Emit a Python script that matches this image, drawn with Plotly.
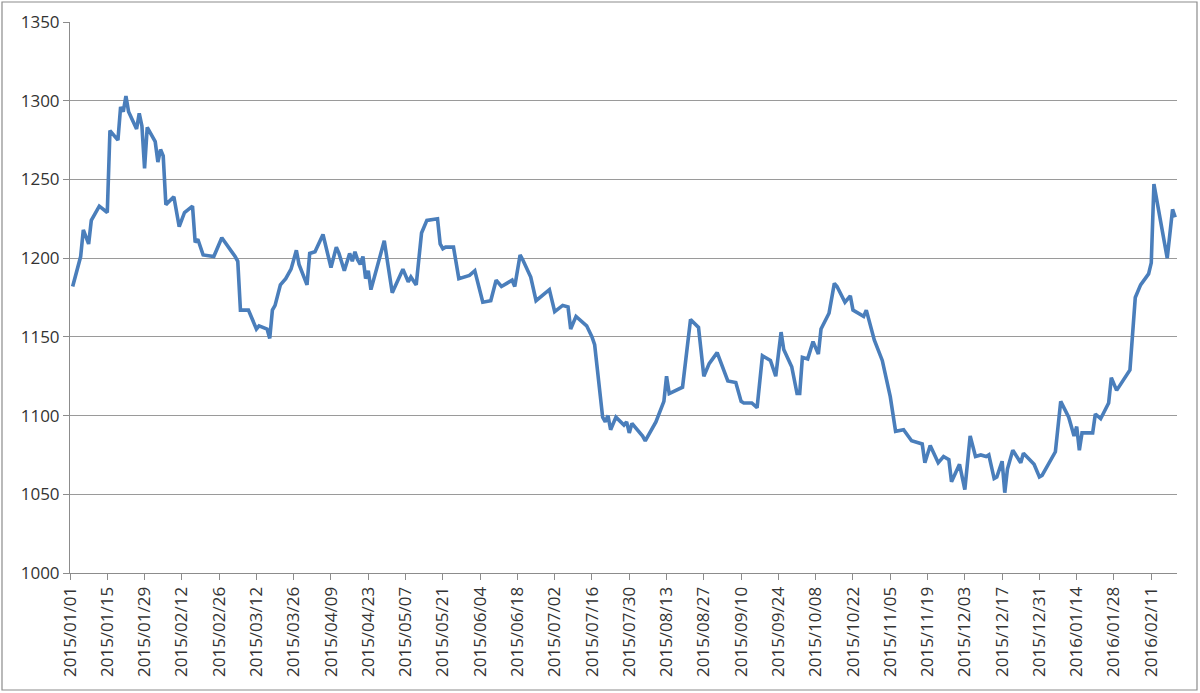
import plotly.graph_objects as go

dates = [
    "2015-01-02", "2015-01-05", "2015-01-06", "2015-01-08", "2015-01-09", "2015-01-12", "2015-01-15", "2015-01-16",
    "2015-01-19", "2015-01-20", "2015-01-21", "2015-01-22", "2015-01-23", "2015-01-26", "2015-01-27", "2015-01-28",
    "2015-01-29", "2015-01-30", "2015-02-02", "2015-02-03", "2015-02-04", "2015-02-05", "2015-02-06", "2015-02-09",
    "2015-02-11", "2015-02-13", "2015-02-16", "2015-02-17", "2015-02-18", "2015-02-20", "2015-02-24", "2015-02-27",
    "2015-03-04", "2015-03-05", "2015-03-06", "2015-03-09", "2015-03-12", "2015-03-13", "2015-03-16", "2015-03-17",
    "2015-03-18", "2015-03-19", "2015-03-21", "2015-03-23", "2015-03-25", "2015-03-27", "2015-03-28", "2015-03-31",
    "2015-04-01", "2015-04-03", "2015-04-06", "2015-04-09", "2015-04-11", "2015-04-12", "2015-04-14", "2015-04-16",
    "2015-04-17", "2015-04-18", "2015-04-19", "2015-04-20", "2015-04-21", "2015-04-22", "2015-04-23", "2015-04-24",
    "2015-04-29", "2015-05-02", "2015-05-06", "2015-05-08", "2015-05-09", "2015-05-11", "2015-05-13", "2015-05-15",
    "2015-05-19", "2015-05-20", "2015-05-21", "2015-05-22", "2015-05-25", "2015-05-27", "2015-05-31", "2015-06-02",
    "2015-06-05", "2015-06-08", "2015-06-10", "2015-06-12", "2015-06-14", "2015-06-16", "2015-06-17", "2015-06-19",
    "2015-06-20", "2015-06-23", "2015-06-25", "2015-06-30", "2015-07-02", "2015-07-05", "2015-07-07", "2015-07-08",
    "2015-07-10", "2015-07-14", "2015-07-16", "2015-07-17", "2015-07-20", "2015-07-21", "2015-07-22", "2015-07-23",
    "2015-07-25", "2015-07-28", "2015-07-29", "2015-07-30", "2015-07-31", "2015-08-04", "2015-08-05", "2015-08-09",
    "2015-08-12", "2015-08-13", "2015-08-14", "2015-08-19", "2015-08-22", "2015-08-25", "2015-08-27", "2015-08-29",
    "2015-09-01", "2015-09-05", "2015-09-08", "2015-09-10", "2015-09-11", "2015-09-14", "2015-09-16", "2015-09-18",
    "2015-09-21", "2015-09-23", "2015-09-25", "2015-09-26", "2015-09-29", "2015-10-01", "2015-10-02", "2015-10-03",
    "2015-10-05", "2015-10-07", "2015-10-09", "2015-10-10", "2015-10-13", "2015-10-15", "2015-10-16", "2015-10-19",
    "2015-10-21", "2015-10-22", "2015-10-26", "2015-10-27", "2015-10-30", "2015-11-02", "2015-11-05", "2015-11-07",
    "2015-11-10", "2015-11-13", "2015-11-17", "2015-11-18", "2015-11-20", "2015-11-23", "2015-11-25", "2015-11-27",
    "2015-11-28", "2015-12-01", "2015-12-03", "2015-12-05", "2015-12-07", "2015-12-09", "2015-12-11", "2015-12-12",
    "2015-12-14", "2015-12-15", "2015-12-17", "2015-12-18", "2015-12-19", "2015-12-21", "2015-12-24", "2015-12-25",
    "2015-12-29", "2015-12-31", "2016-01-01", "2016-01-06", "2016-01-08", "2016-01-11", "2016-01-12", "2016-01-13",
    "2016-01-14", "2016-01-15", "2016-01-16", "2016-01-20", "2016-01-21", "2016-01-23", "2016-01-26", "2016-01-27",
    "2016-01-29", "2016-02-03", "2016-02-05", "2016-02-07", "2016-02-10", "2016-02-11", "2016-02-12", "2016-02-17",
    "2016-02-19", "2016-02-20",
]

prices = [
    1182, 1201, 1218, 1209, 1224, 1233, 1229, 1281,
    1275, 1296, 1293, 1303, 1293, 1282, 1292, 1284,
    1257, 1283, 1274, 1261, 1269, 1265, 1234, 1239,
    1220, 1229, 1233, 1210, 1212, 1202, 1201, 1213,
    1201, 1198, 1167, 1167, 1155, 1157, 1155, 1149,
    1167, 1170, 1183, 1187, 1193, 1205, 1196, 1183,
    1203, 1204, 1215, 1194, 1207, 1203, 1192, 1203,
    1198, 1204, 1199, 1196, 1201, 1187, 1192, 1180,
    1211, 1178, 1193, 1185, 1188, 1183, 1216, 1224,
    1225, 1209, 1206, 1207, 1207, 1187, 1189, 1192,
    1172, 1173, 1186, 1182, 1184, 1186, 1182, 1202,
    1199, 1188, 1173, 1180, 1166, 1170, 1169, 1155,
    1163, 1157, 1150, 1145, 1099, 1096, 1100, 1091,
    1099, 1094, 1096, 1089, 1095, 1087, 1084, 1096,
    1109, 1125, 1114, 1118, 1161, 1156, 1125, 1133,
    1140, 1122, 1121, 1109, 1108, 1108, 1105, 1138,
    1135, 1125, 1153, 1142, 1131, 1114, 1114, 1137,
    1136, 1147, 1139, 1155, 1165, 1184, 1182, 1172,
    1176, 1167, 1163, 1167, 1148, 1135, 1112, 1090,
    1091, 1084, 1082, 1070, 1081, 1070, 1074, 1072,
    1058, 1069, 1053, 1087, 1074, 1075, 1074, 1075,
    1060, 1061, 1071, 1051, 1066, 1078, 1070, 1076,
    1069, 1061, 1062, 1077, 1109, 1099, 1093, 1087,
    1093, 1078, 1089, 1089, 1101, 1098, 1108, 1124,
    1116, 1129, 1175, 1183, 1190, 1197, 1247, 1200,
    1231, 1226,
]

tick_dates = [
    "2015-01-01", "2015-01-15", "2015-01-29", "2015-02-12", "2015-02-26", "2015-03-12", "2015-03-26",
    "2015-04-09", "2015-04-23", "2015-05-07", "2015-05-21", "2015-06-04", "2015-06-18", "2015-07-02",
    "2015-07-16", "2015-07-30", "2015-08-13", "2015-08-27", "2015-09-10", "2015-09-24", "2015-10-08",
    "2015-10-22", "2015-11-05", "2015-11-19", "2015-12-03", "2015-12-17", "2015-12-31", "2016-01-14",
    "2016-01-28", "2016-02-11",
]
tick_labels = [d.replace("-", "/") for d in tick_dates]

y_ticks = [1000, 1050, 1100, 1150, 1200, 1250, 1300, 1350]

font_family = "Open Sans, Liberation Sans, Arial, sans-serif"
text_color = "#333333"
grid_color = "#9a9a9a"

fig = go.Figure()
fig.add_trace(go.Scatter(
    x=dates, y=prices, mode="lines",
    line=dict(color="#4a7ebb", width=3.6),
    hoverinfo="x+y", showlegend=False,
))

fig.update_layout(
    width=1200, height=693,
    margin=dict(l=70, r=23, t=22, b=120),
    paper_bgcolor="white", plot_bgcolor="white",
    font=dict(family=font_family, size=17, color=text_color),
    xaxis=dict(
        type="date", automargin=False,
        range=["2015-01-01", "2016-02-20 16:00"],
        tickmode="array", tickvals=tick_dates, ticktext=tick_labels,
        tickangle=-90,
        showgrid=False, zeroline=False,
        showline=True, linecolor="#8c8c8c", linewidth=1,
        ticks="outside", ticklen=6, tickcolor="#8c8c8c",
        tickfont=dict(family=font_family, size=17, color=text_color),
    ),
    yaxis=dict(
        automargin=False,
        range=[1000, 1350],
        tickmode="array", tickvals=y_ticks,
        showgrid=True, gridcolor=grid_color, gridwidth=1,
        zeroline=False,
        showline=True, linecolor="#8c8c8c", linewidth=1,
        ticks="outside", ticklen=6, tickcolor="#8c8c8c",
        tickfont=dict(family=font_family, size=17, color=text_color),
    ),
    shapes=[dict(
        type="rect", xref="paper", yref="paper",
        x0=(2 - 70) / 1107, x1=(1197 - 70) / 1107,
        y0=(573 - 690) / 551, y1=(573 - 2) / 551,
        line=dict(color="#8c8c8c", width=1.2), fillcolor="rgba(0,0,0,0)",
        layer="below",
    )],
)

fig.write_html("out.html")
